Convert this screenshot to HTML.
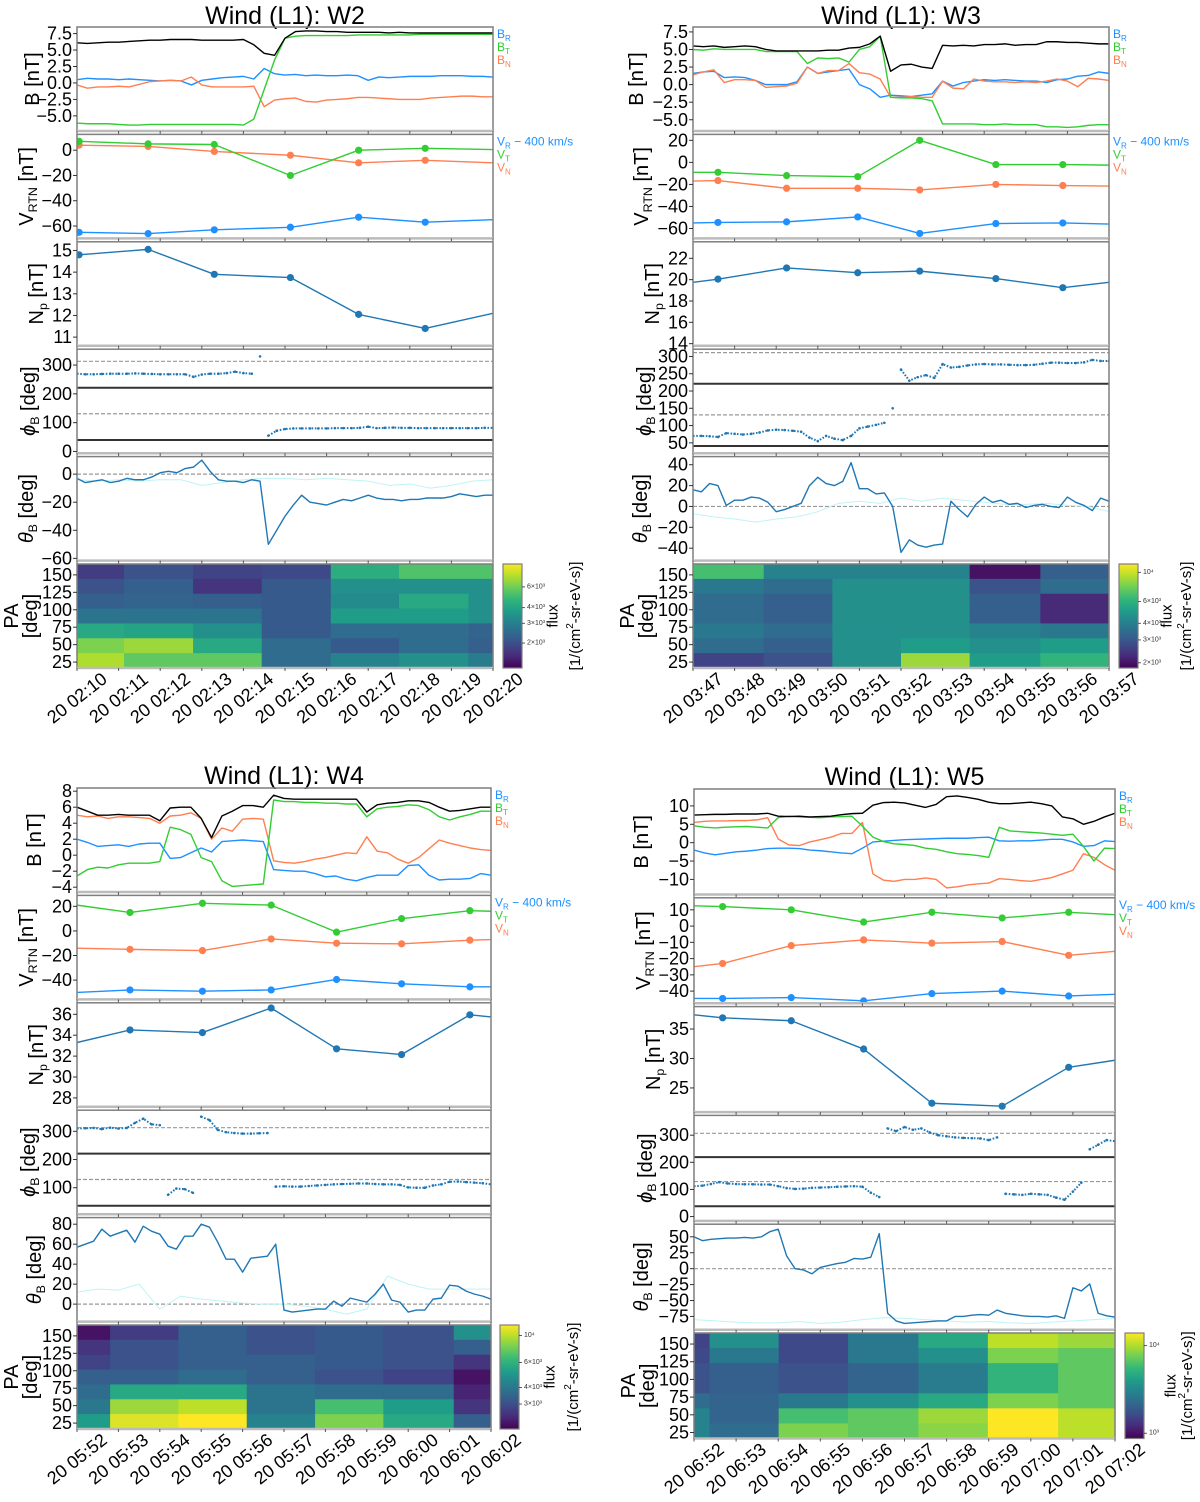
<!DOCTYPE html>
<html><head><meta charset="utf-8"><style>
html,body{margin:0;padding:0;background:#fff;}
svg{display:block;font-family:"Liberation Sans",sans-serif;}
</style></head><body>
<svg id="fig" width="1200" height="1502" viewBox="0 0 1200 1502" xmlns="http://www.w3.org/2000/svg"></svg>
<script>
// ===== DATA =====
const w2_Bmag=[6.1,6.0,6.1,6.2,6.2,6.3,6.4,6.5,6.5,6.6,6.6,6.6,6.5,6.5,6.5,6.5,6.6,5.8,4.5,4.2,6.8,7.8,7.9,7.9,7.8,7.8,7.7,7.7,7.7,7.7,7.6,7.7,7.6,7.6,7.6,7.6,7.6,7.6,7.6,7.6,7.6];
const w2_BT=[-6.1,-6.2,-6.2,-6.2,-6.3,-6.4,-6.4,-6.3,-6.3,-6.3,-6.3,-6.3,-6.3,-6.3,-6.3,-6.3,-6.4,-5.5,-1.0,3.5,6.8,7.1,7.2,7.2,7.2,7.2,7.2,7.3,7.3,7.3,7.3,7.3,7.3,7.4,7.4,7.4,7.4,7.4,7.4,7.4,7.4];
const w2_BR=[0.5,0.7,0.6,0.6,0.5,0.6,0.5,0.4,0.3,0.4,0.3,-0.3,0.4,0.6,0.8,0.9,1.0,0.6,2.2,1.4,1.2,1.3,1.1,1.2,1.1,1.1,1.2,1.1,0.4,0.9,0.8,0.9,1.0,1.0,1.0,1.1,1.1,1.1,1.0,1.0,0.9];
const w2_BN=[-0.3,-0.8,-0.6,-0.6,-0.5,-0.6,-0.2,0.2,0.3,0.4,0.3,0.9,-0.3,-0.6,-0.6,-0.6,-0.6,-0.5,-3.6,-2.6,-2.4,-2.3,-2.8,-2.9,-2.6,-2.5,-2.4,-2.2,-2.2,-2.3,-2.4,-2.5,-2.5,-2.5,-2.3,-2.2,-2.1,-2.0,-2.0,-2.1,-2.1];
const w3_Bmag=[5.5,5.4,5.5,5.3,5.4,5.5,5.4,5.0,4.8,4.8,4.8,4.8,4.8,4.9,4.9,5.2,5.3,5.8,6.9,1.9,2.8,2.9,2.5,2.3,5.6,5.5,5.6,5.5,5.7,5.7,5.8,5.6,5.7,5.7,6.1,6.1,6.0,6.0,5.9,5.8,5.8];
const w3_BT=[5.0,4.9,5.1,5.0,5.0,5.0,5.0,4.7,4.7,4.7,4.7,3.0,3.8,3.7,3.8,3.2,5.0,5.4,6.9,-1.8,-1.9,-1.9,-2.0,-2.3,-5.6,-5.6,-5.6,-5.6,-5.7,-5.7,-5.6,-5.7,-5.7,-5.7,-6.0,-6.0,-6.1,-6.0,-5.8,-5.7,-5.7];
const w3_BR=[1.6,1.8,1.9,1.0,1.1,1.0,0.6,0.0,0.0,0.0,0.4,2.5,1.6,1.8,2.0,2.2,0.0,-0.6,-1.8,-1.5,-1.6,-1.7,-1.5,-1.3,0.5,-0.2,0.3,0.5,0.7,0.6,0.7,0.6,0.5,0.5,0.3,0.7,0.8,1.2,1.3,1.8,1.6];
const w3_BN=[1.4,1.8,2.1,0.3,0.7,0.7,0.6,-0.4,-0.3,-0.2,0.2,2.5,1.6,2.0,2.0,3.0,1.7,1.5,0.8,-1.8,-1.8,-1.7,-1.8,-1.8,0.5,-0.5,-0.6,0.8,0.5,0.4,0.4,0.3,0.4,0.3,0.5,0.8,0.5,-0.3,0.9,0.8,0.6];
const w4_Bmag=[6.0,5.5,5.0,5.0,5.1,5.0,5.0,5.0,4.3,5.9,6.0,6.0,4.6,2.2,4.9,5.5,6.2,6.2,6.0,7.5,7.1,7.0,7.0,7.0,7.0,7.0,7.0,7.0,5.4,6.3,6.5,6.6,6.8,6.8,6.6,6.0,5.5,5.6,5.8,6.0,6.0];
const w4_BT=[-2.6,-1.8,-1.5,-1.6,-1.2,-1.0,-1.0,-1.0,-0.8,3.5,3.2,2.6,-0.3,-0.8,-3.2,-3.9,-3.8,-3.7,-3.6,6.9,6.7,6.7,6.6,6.6,6.5,6.5,6.4,6.4,4.8,5.8,6.0,6.1,6.3,6.2,5.7,4.8,4.4,4.8,5.1,5.5,5.5];
const w4_BR=[2.0,1.6,1.1,1.2,1.3,1.1,1.4,1.5,1.5,-0.4,-0.3,0.3,0.9,0.4,1.7,1.8,1.9,1.8,1.7,-1.8,-1.9,-2.0,-2.0,-2.3,-2.7,-2.6,-3.0,-3.2,-2.8,-2.5,-2.5,-2.5,-1.3,-1.2,-2.5,-3.1,-3.0,-3.0,-2.9,-2.3,-2.5];
const w4_BN=[5.0,4.8,4.9,4.6,4.8,4.8,4.7,4.6,4.0,4.9,5.0,5.3,4.6,2.0,3.4,3.0,4.5,4.6,4.5,-0.7,-0.9,-1.0,-0.8,-0.5,-0.3,0.0,0.3,0.2,2.3,0.5,0.3,-0.5,-1.0,-0.3,0.8,1.9,1.5,1.2,0.9,0.7,0.6];
const w5_Bmag=[7.5,7.6,7.7,7.7,7.8,7.8,7.8,8.0,7.2,7.1,7.2,7.0,7.1,7.2,7.6,7.9,8.0,10.2,10.9,11.0,10.8,10.2,9.6,10.4,12.5,12.7,12.3,11.8,11.0,10.6,10.6,10.8,11.0,10.6,10.0,7.0,6.5,5.0,5.8,7.0,8.0];
const w5_BT=[4.6,4.2,4.0,4.2,4.3,4.4,4.2,4.0,6.8,7.2,7.0,6.9,6.8,7.0,7.1,7.2,4.5,1.5,0.3,-0.3,-0.5,-0.8,-1.5,-1.8,-2.5,-3.0,-3.2,-3.5,-4.0,4.2,3.2,3.0,2.8,2.6,2.3,2.0,2.3,-1.0,-5.0,-1.5,-1.6];
const w5_BR=[-2.0,-2.8,-3.3,-2.9,-2.5,-2.3,-2.0,-1.6,-1.5,-1.5,-1.6,-2.0,-2.2,-2.5,-2.8,-3.0,-1.5,0.2,0.4,0.6,0.8,0.9,1.0,1.1,1.2,1.2,1.2,1.4,1.5,0.5,0.4,0.5,0.5,0.7,0.9,0.9,0.2,-1.0,-0.8,0.5,0.3];
const w5_BN=[5.5,5.8,5.9,5.9,6.0,6.0,6.2,6.8,1.0,-0.6,-0.8,0.2,0.8,1.5,2.5,2.5,5.5,-8.5,-10.2,-10.5,-10.0,-10.0,-9.6,-10.0,-12.3,-12.0,-11.5,-11.2,-11.0,-9.8,-10.0,-10.3,-10.5,-10.0,-9.5,-8.5,-7.5,-3.0,-4.0,-6.0,-7.5];
const w2_vt=[0.05,1.71,3.3,5.13,6.77,8.37,10];
const w2_VR=[-65,-66,-63,-61,-53,-57,-55];
const w2_VT=[7,5,4.5,-20,0,1.5,0.5];
const w2_VN=[4,3,-1,-4,-10,-8,-10];
const w2_Np=[14.8,15.05,13.9,13.75,12.05,11.4,12.1];
const w3_vt=[0,0.6,2.25,3.96,5.45,7.28,8.89,10];
const w3_VR=[-55,-54.5,-54,-49.5,-64.5,-55.5,-55,-56];
const w3_VT=[-9,-9,-12,-13,20,-2,-2,-2.5];
const w3_VN=[-17,-16.5,-23.5,-23.5,-25,-20,-21,-21.5];
const w3_Np=[19.75,20.05,21.1,20.65,20.8,20.1,19.25,19.75];
const w4_vt=[0,1.28,3.03,4.69,6.27,7.84,9.49,10];
const w4_VR=[-50,-48,-49,-48,-39.5,-43,-45.5,-45.5];
const w4_VT=[21,15,22.5,21,-1,10,16.5,16];
const w4_VN=[-14,-15,-16,-6.5,-10,-10.5,-7.5,-7];
const w4_Np=[33.3,34.5,34.25,36.6,32.7,32.15,35.95,35.75];
const w5_vt=[0,0.68,2.31,4.03,5.65,7.32,8.9,10];
const w5_VR=[-44.5,-44.5,-44,-46,-41.5,-40,-43,-42];
const w5_VT=[12.5,12,10,2.5,8.5,5,8.5,7];
const w5_VN=[-25,-23,-12,-8.5,-10.5,-9.5,-18,-15.5];
const w5_Np=[37.4,36.9,36.4,31.6,22.4,21.9,28.5,29.7];
const w2_phi=[270,268,268,269,270,270,270,271,270,269,268,268,268,268,259,267,270,270,272,277,272,270,330,55,72,78,80,80,80,80,80,81,81,81,82,86,81,82,83,82,82,81,81,81,81,81,81,81,81,82,82];
const w3_phi=[70,70,69,67,78,76,74,76,80,86,88,87,85,82,65,55,70,62,58,70,92,97,102,108,150,262,230,240,246,238,278,268,270,274,277,278,277,277,276,275,275,276,279,282,282,281,281,283,290,287,287];
const w4_phi=[310,311,312,308,313,310,312,330,345,325,322,75,97,95,82,352,340,305,297,294,292,292,293,294,104,105,104,104,106,108,110,112,113,114,115,115,113,112,112,110,101,100,100,108,112,121,122,120,118,116,112];
const w5_phi=[112,114,120,127,122,120,119,119,118,118,112,105,102,103,106,107,108,110,111,112,110,88,72,325,315,330,320,325,310,300,296,292,290,289,288,282,292,84,82,80,84,82,80,70,62,92,125,248,265,282,278];
const w2_theta=[-3,-6,-5,-4,-6,-5,-3,-4,-4,-2,1,2,1,4,5,10,2,-4,-5,-5,-6,-4,-5,-50,-40,-30,-22,-15,-20,-21,-22,-20,-18,-19,-17,-15,-17,-18,-18,-19,-18,-18,-17,-17,-17,-16,-14,-15,-16,-15,-15];
const w2_thetaRef=[-4,-5,-4,-5,-4,-4,-8,-6,-4,-3,-3,-4,-3,-4,-5,-8,-7,-10,-8,-5,-4];
const w3_theta=[16,14,22,20,1,6,6,9,8,4,-5,-3,0,3,20,28,22,20,24,42,17,17,12,13,0,-44,-32,-37,-39,-37,-36,5,-3,-10,2,9,4,6,2,3,-1,1,2,0,-1,9,4,1,-4,8,5];
const w3_thetaRef=[-7,-10,-12,-15,-12,-10,-5,3,5,3,8,5,8,6,4,2,2,3,1,0,-5];
const w4_theta=[57,60,63,75,68,71,74,62,78,73,70,58,55,68,68,80,77,62,45,45,32,46,47,48,60,-6,-8,-7,-6,-5,-5,3,-2,6,4,2,10,20,4,2,-8,-6,-6,5,6,19,18,13,10,8,5];
const w4_thetaRef=[12,15,14,20,-5,8,5,3,1,0,0,-2,-5,-10,-5,28,20,15,15,15,15];
const w5_theta=[50,44,46,47,48,48,49,48,50,58,62,20,0,-2,-8,2,5,8,10,16,15,18,55,-70,-82,-86,-85,-84,-83,-82,-82,-75,-75,-73,-72,-73,-65,-70,-72,-74,-75,-75,-76,-74,-78,-30,-35,-24,-70,-74,-76];
const w5_thetaRef=[-80,-82,-84,-85,-85,-83,-86,-84,-80,-77,-78,-80,-82,-84,-83,-85,-86,-84,-82,-80,-78];
const w2_paEdges=[0,1.13,2.79,4.44,6.1,7.74,9.41,10];
const w2_pa=[[0.18,0.25,0.2,0.22,0.62,0.72,0.72],[0.25,0.3,0.15,0.28,0.5,0.5,0.5],[0.3,0.32,0.3,0.28,0.48,0.6,0.5],[0.38,0.38,0.38,0.28,0.55,0.55,0.5],[0.6,0.58,0.5,0.28,0.35,0.35,0.32],[0.8,0.85,0.6,0.35,0.28,0.35,0.3],[0.88,0.75,0.75,0.35,0.45,0.5,0.42]];
const w3_paEdges=[0,1.7,3.35,5.0,6.65,8.35,10];
const w3_pa=[[0.7,0.45,0.45,0.45,0.05,0.3],[0.4,0.35,0.5,0.5,0.25,0.35],[0.35,0.3,0.5,0.5,0.3,0.12],[0.35,0.3,0.5,0.5,0.3,0.12],[0.4,0.35,0.5,0.5,0.45,0.4],[0.35,0.3,0.5,0.55,0.5,0.55],[0.2,0.25,0.5,0.85,0.55,0.65]];
const w4_paEdges=[0,0.8,2.45,4.1,5.75,7.4,9.1,10];
const w4_pa=[[0.05,0.18,0.3,0.25,0.28,0.25,0.5],[0.15,0.25,0.3,0.25,0.28,0.25,0.3],[0.2,0.25,0.3,0.3,0.28,0.25,0.15],[0.3,0.3,0.35,0.3,0.25,0.2,0.05],[0.35,0.6,0.6,0.38,0.35,0.35,0.1],[0.4,0.85,0.9,0.38,0.7,0.55,0.15],[0.55,0.95,1,0.45,0.8,0.6,0.3]];
const w5_paEdges=[0,0.37,2.01,3.66,5.33,6.98,8.65,10];
const w5_pa=[[0.2,0.5,0.22,0.4,0.6,0.9,0.85],[0.22,0.4,0.22,0.4,0.5,0.8,0.75],[0.25,0.3,0.25,0.32,0.42,0.65,0.75],[0.25,0.3,0.25,0.32,0.42,0.65,0.75],[0.35,0.32,0.4,0.5,0.6,0.8,0.75],[0.45,0.32,0.7,0.75,0.85,1,0.9],[0.45,0.35,0.8,0.75,0.82,1,0.9]];
const w2_times=["02:10","02:11","02:12","02:13","02:14","02:15","02:16","02:17","02:18","02:19","02:20"];
const w3_times=["03:47","03:48","03:49","03:50","03:51","03:52","03:53","03:54","03:55","03:56","03:57"];
const w4_times=["05:52","05:53","05:54","05:55","05:56","05:57","05:58","05:59","06:00","06:01","06:02"];
const w5_times=["06:52","06:53","06:54","06:55","06:56","06:57","06:58","06:59","07:00","07:01","07:02"];

// ===== RENDER =====
const NS="http://www.w3.org/2000/svg";
const svg=document.getElementById('fig');
function mk(tag,attrs,parent){const e=document.createElementNS(NS,tag);for(const k in attrs)e.setAttribute(k,attrs[k]);(parent||svg).appendChild(e);return e;}
const C={R:'#1e90ff',T:'#32cd32',N:'#ff7f50',mag:'#000',line:'#1f77b4',ref:'#bff3f5'};
const VIR=[[68,1,84],[72,40,120],[62,74,137],[49,104,142],[38,130,142],[31,158,137],[53,183,121],[110,206,88],[181,222,43],[253,231,37]];
function vir(f){f=Math.max(0,Math.min(1,f))*9;const i=Math.min(8,Math.floor(f)),r=f-i;const a=VIR[i],b=VIR[i+1];return 'rgb('+a.map((v,k)=>Math.round(v+(b[k]-v)*r)).join(',')+')';}
function rng(n,step){return Array.from({length:n},(_,i)=>i*step);}
const T41=rng(41,0.25),T51=rng(51,0.2),T21=rng(21,0.5);
let clipId=0;

function subLabel(g,x,y,main,sub,rest,size,italic){
  const t=mk('text',{x:x,y:y,'font-size':size,'text-anchor':'middle','dominant-baseline':'central',transform:'rotate(-90 '+x+' '+y+')'},g);
  const a=mk('tspan',{},t);a.textContent=main;if(italic)a.setAttribute('font-style','italic');
  if(sub){const s=mk('tspan',{'font-size':size*0.62,dy:size*0.3},t);s.textContent=sub;const r=mk('tspan',{dy:-size*0.3},t);r.textContent=rest;}
  else{const r=mk('tspan',{},t);r.textContent=rest;}
  return t;
}

function drawPanel(P){
  const g=mk('g',{});
  
  
  const L=P.left,R=P.right,W=R-L;
  const xs=t=>L+t/10*W;
  const title=mk('text',{x:(L+R)/2,y:P.titleY,'font-size':25,'text-anchor':'middle'},g);
  title.textContent='Wind (L1): '+P.label;
  
  
  P.subs.forEach((S,i)=>{
    const y0=P.top+i*P.step,h=P.h;
    const ys=v=>y0+(S.hi-v)/(S.hi-S.lo)*h;
    const sg=mk('g',{},g);
    
    
    const cid='c'+(clipId++);
    const cp=mk('clipPath',{id:cid},sg);mk('rect',{x:L,y:y0,width:W,height:h},cp);
    const inner=mk('g',{'clip-path':'url(#'+cid+')'},sg);
    if(S.key==='pa'){
      const nr=S.grid.length,rh=h/nr;
      S.grid.forEach((row,ri)=>row.forEach((v,ci)=>{
        const x1=xs(S.edges[ci]),x2=xs(S.edges[ci+1]);
        const c=mk('rect',{x:x1,y:y0+ri*rh,width:x2-x1+0.5,height:rh+0.5,fill:vir(v)},inner);
        
        
      }));
    }
    (S.hlines||[]).forEach(hl=>{
      const l=mk('line',{x1:L,x2:R,y1:ys(hl.v),y2:ys(hl.v),stroke:hl.dash?'#999':'#333','stroke-width':hl.dash?1.2:2,'stroke-dasharray':hl.dash?'4 2':'none'},inner);
      
      
    });
    (S.series||[]).forEach(se=>{
      const pts=[];se.y.forEach((v,k)=>{if(v!==null)pts.push([xs(se.t[k]),ys(v),v]);});
      if(se.dots){
        const segs=[];let cur=[];
        pts.forEach((p,k)=>{if(k>0&&Math.abs(p[2]-pts[k-1][2])>40){segs.push(cur);cur=[];}cur.push(p);});
        segs.push(cur);
        segs.forEach(sgm=>{if(sgm.length>1){
          const pl=mk('polyline',{points:sgm.map(p=>p[0]+','+p[1]).join(' '),fill:'none',stroke:se.c,'stroke-width':2,'stroke-dasharray':'1.6 1.6'},inner);
          
          }});
        pts.forEach(p=>{const d=mk('circle',{cx:p[0],cy:p[1],r:1.3,fill:se.c},inner);
          
          });
      }else{
        const pl=mk('polyline',{points:pts.map(p=>p[0]+','+p[1]).join(' '),fill:'none',stroke:se.c,'stroke-width':se.w||1.4,'stroke-linejoin':'round'},inner);
        
        
        if(se.markers)pts.forEach((p,k)=>{const tv=se.t[k];if(tv>0.02&&tv<9.98){const m=mk('circle',{cx:p[0],cy:p[1],r:3.6,fill:se.c},inner);
          
          }});
      }
    });
    const fr=mk('rect',{x:L,y:y0,width:W,height:h,fill:'none',stroke:'#7f7f7f','stroke-width':1.5},sg);
    
    
    mk('line',{x1:L,x2:R,y1:y0+h,y2:y0+h,stroke:'#bbb','stroke-width':2.5},sg);
    for(let m=0;m<=10;m++)mk('line',{x1:xs(m),x2:xs(m),y1:y0+h,y2:y0+h+3,stroke:'#555','stroke-width':1},sg);
    S.ticks.forEach((tv,k)=>{
      const y=ys(tv);
      mk('line',{x1:L-4,x2:L,y1:y,y2:y,stroke:'#333','stroke-width':1},sg);
      const tl=mk('text',{x:L-5,y:y,'font-size':18,'text-anchor':'end','dominant-baseline':'central'},sg);
      tl.textContent=S.tickLabels[k];
      
      
    });
    let yl;
    const cy=y0+h/2;
    if(S.key==='B')yl=subLabel(sg,L-S.lo2,cy,'B','','\u00a0[nT]',20);
    if(S.key==='V')yl=subLabel(sg,L-S.lo2,cy,'V','RTN','\u00a0[nT]',20);
    if(S.key==='Np')yl=subLabel(sg,L-S.lo2,cy,'N','p','\u00a0[nT]',20);
    if(S.key==='phi')yl=subLabel(sg,L-S.lo2,cy,'\u03d5','B','\u00a0[deg]',20,true);
    if(S.key==='theta')yl=subLabel(sg,L-S.lo2,cy,'\u03b8','B','\u00a0[deg]',20,true);
    if(S.key==='pa'){
      yl=mk('text',{x:L-65,y:cy,'font-size':20,'text-anchor':'middle','dominant-baseline':'central',transform:'rotate(-90 '+(L-65)+' '+cy+')'},sg);yl.textContent='PA';
      const y2=mk('text',{x:L-46,y:cy,'font-size':20,'text-anchor':'middle','dominant-baseline':'central',transform:'rotate(-90 '+(L-46)+' '+cy+')'},sg);y2.textContent='[deg]';
    }
    
    
    if(S.key==='B'||S.key==='V'){
      const names=S.key==='B'?[['B','R',' ',C.R],['B','T','',C.T],['B','N','',C.N]]:[['V','R',' \u2212 400 km/s',C.R],['V','T','',C.T],['V','N','',C.N]];
      names.forEach((n,k)=>{
        const t=mk('text',{x:R+4,y:y0+11+k*13,'font-size':12,fill:n[3]},sg);
        const a=mk('tspan',{},t);a.textContent=n[0];
        const s=mk('tspan',{'font-size':8,dy:3},t);s.textContent=n[1];
        if(n[2].trim()){const r=mk('tspan',{dy:-3},t);r.textContent=n[2];}
        
        
      });
    }
    if(S.key==='pa'){
      const cx=R+P.cbOff,cw=19;
      const gid='g'+P.name;
      const lg=mk('linearGradient',{id:gid,x1:0,y1:1,x2:0,y2:0},sg);
      for(let k=0;k<=9;k++)mk('stop',{offset:k/9,'stop-color':vir(k/9)},lg);
      const cb=mk('rect',{x:cx,y:y0,width:cw,height:h,fill:'url(#'+gid+')',stroke:'#7f7f7f','stroke-width':1.2},sg);
      
      
      P.cbTicks.forEach(ct=>{
        const yy=y0+ct[0]*h;
        mk('line',{x1:cx+cw,x2:cx+cw+3,y1:yy,y2:yy,stroke:'#333','stroke-width':0.8},sg);
        const t=mk('text',{x:cx+cw+5,y:yy,'font-size':7,'dominant-baseline':'central',fill:'#333'},sg);
        t.textContent=ct[1];
        
        
      });
      const fx=R+P.fluxOff,bx=R+P.unitOff;
      const f=mk('text',{x:fx,y:cy,'font-size':15,'text-anchor':'middle','dominant-baseline':'central',transform:'rotate(-90 '+fx+' '+cy+')'},sg);f.textContent='flux';
      
      
      const b=mk('text',{x:bx,y:cy,'font-size':15,'text-anchor':'middle','dominant-baseline':'central',transform:'rotate(-90 '+bx+' '+cy+')'},sg);
      const b1=mk('tspan',{},b);b1.textContent='[1/(cm';const b2=mk('tspan',{'font-size':10,dy:-5},b);b2.textContent='2';const b3=mk('tspan',{dy:5},b);b3.textContent='-sr-eV-s)]';
      
      
      P.times.forEach((tm,k)=>{
        const x=xs(k),y=y0+h+30;
        const t=mk('text',{x:x,y:y,'font-size':18,'text-anchor':'middle','dominant-baseline':'central',transform:'rotate(-38 '+x+' '+y+')'},sg);
        t.textContent='20 '+tm;
        
        
      });
    }
  });
}
function fmt(v,d){return (v<0?'\u2212':'')+Math.abs(v).toFixed(d);}
function ticks(a,d){return {ticks:a,tickLabels:a.map(v=>fmt(v,d))};}
function paSub(edges,grid){return Object.assign({key:'pa',lo:16.5,hi:165.6,lo2:0,edges:edges,grid:grid},ticks([25,50,75,100,125,150],0));}
function bSeries(mag,br,bt,bn){return [{t:T41,y:br,c:C.R,nm:'BR-line'},{t:T41,y:bn,c:C.N,nm:'BN-line'},{t:T41,y:bt,c:C.T,nm:'BT-line'},{t:T41,y:mag,c:C.mag,nm:'Bmag-line'}];}
function vSeries(t,r,tt,n){return [{t:t,y:r,c:C.R,nm:'VR-line',markers:true},{t:t,y:n,c:C.N,nm:'VN-line',markers:true},{t:t,y:tt,c:C.T,nm:'VT-line',markers:true}];}
function phiLines(b1,b2,d1,d2){return [{v:b1},{v:b2},{v:d1,dash:true},{v:d2,dash:true}];}

const panels=[
 {name:'w2',label:'W2',left:77,right:493,top:27,step:107.4,h:104,titleY:24,cbOff:10,fluxOff:60,unitOff:82,times:w2_times,
  cbTicks:[[0.22,'6\u00d710\u00b3'],[0.42,'4\u00d710\u00b3'],[0.57,'3\u00d710\u00b3'],[0.76,'2\u00d710\u00b3']],
  subs:[Object.assign({key:'B',lo:-7.3,hi:8.5,lo2:44,series:bSeries(w2_Bmag,w2_BR,w2_BT,w2_BN)},ticks([-5,-2.5,0,2.5,5,7.5],1)),
   Object.assign({key:'V',lo:-69.8,hi:12.5,lo2:50,series:vSeries(w2_vt,w2_VR,w2_VT,w2_VN)},ticks([-60,-40,-20,0],0)),
   Object.assign({key:'Np',lo:10.6,hi:15.4,lo2:40,series:[{t:w2_vt,y:w2_Np,c:C.line,nm:'Np-line',markers:true}]},ticks([11,12,13,14,15],0)),
   Object.assign({key:'phi',lo:-6,hi:355,lo2:48,hlines:phiLines(221,40,313,131),series:[{t:T51,y:w2_phi,c:C.line,nm:'phiB-dots',dots:true}]},ticks([0,100,200,300],0)),
   Object.assign({key:'theta',lo:-61.6,hi:12.5,lo2:50,hlines:[{v:0,dash:true}],series:[{t:T21,y:w2_thetaRef,c:C.ref,nm:'thetaB-ref-line',w:1},{t:T51,y:w2_theta,c:C.line,nm:'thetaB-line'}]},ticks([-60,-40,-20,0],0)),
   paSub(w2_paEdges,w2_pa)]},
 {name:'w3',label:'W3',left:693,right:1109,top:27,step:107.4,h:104,titleY:24,cbOff:10,fluxOff:58,unitOff:77,times:w3_times,
  cbTicks:[[0.08,'10\u2074'],[0.36,'6\u00d710\u00b3'],[0.57,'4\u00d710\u00b3'],[0.73,'3\u00d710\u00b3'],[0.95,'2\u00d710\u00b3']],
  subs:[Object.assign({key:'B',lo:-6.6,hi:8.2,lo2:56,series:bSeries(w3_Bmag,w3_BR,w3_BT,w3_BN)},ticks([-5,-2.5,0,2.5,5,7.5],1)),
   Object.assign({key:'V',lo:-69,hi:25.4,lo2:51,series:vSeries(w3_vt,w3_VR,w3_VT,w3_VN)},ticks([-60,-40,-20,0,20],0)),
   Object.assign({key:'Np',lo:13.8,hi:23.55,lo2:40,series:[{t:w3_vt,y:w3_Np,c:C.line,nm:'Np-line',markers:true}]},ticks([14,16,18,20,22],0)),
   Object.assign({key:'phi',lo:20,hi:321,lo2:48,hlines:phiLines(221,41,311,131),series:[{t:T51,y:w3_phi,c:C.line,nm:'phiB-dots',dots:true}]},ticks([50,100,150,200,250,300],0)),
   Object.assign({key:'theta',lo:-51.9,hi:47.8,lo2:52,hlines:[{v:0,dash:true}],series:[{t:T21,y:w3_thetaRef,c:C.ref,nm:'thetaB-ref-line',w:1},{t:T51,y:w3_theta,c:C.line,nm:'thetaB-line'}]},ticks([-40,-20,0,20,40],0)),
   paSub(w3_paEdges,w3_pa)]},
 {name:'w4',label:'W4',left:77,right:491,top:788,step:107.4,h:104,titleY:784,cbOff:9,fluxOff:59,unitOff:82,times:w4_times,
  cbTicks:[[0.1,'10\u2074'],[0.36,'6\u00d710\u00b3'],[0.6,'4\u00d710\u00b3'],[0.76,'3\u00d710\u00b3']],
  subs:[Object.assign({key:'B',lo:-4.6,hi:8.4,lo2:42,series:bSeries(w4_Bmag,w4_BR,w4_BT,w4_BN)},ticks([-4,-2,0,2,4,6,8],0)),
   Object.assign({key:'V',lo:-55.7,hi:28.9,lo2:50,series:vSeries(w4_vt,w4_VR,w4_VT,w4_VN)},ticks([-40,-20,0,20],0)),
   Object.assign({key:'Np',lo:27.15,hi:37.1,lo2:40,series:[{t:w4_vt,y:w4_Np,c:C.line,nm:'Np-line',markers:true}]},ticks([28,30,32,34,36],0)),
   Object.assign({key:'phi',lo:6,hi:375,lo2:48,hlines:phiLines(221,36,313,129),series:[{t:T51,y:w4_phi,c:C.line,nm:'phiB-dots',dots:true}]},ticks([100,200,300],0)),
   Object.assign({key:'theta',lo:-17.5,hi:86.6,lo2:42,hlines:[{v:0,dash:true}],series:[{t:T21,y:w4_thetaRef,c:C.ref,nm:'thetaB-ref-line',w:1},{t:T51,y:w4_theta,c:C.line,nm:'thetaB-line'}]},ticks([0,20,40,60,80],0)),
   paSub(w4_paEdges,w4_pa)]},
 {name:'w5',label:'W5',left:694,right:1115,top:789,step:108.8,h:105.5,titleY:785,cbOff:10,fluxOff:56,unitOff:72,times:w5_times,
  cbTicks:[[0.12,'10\u2074'],[0.95,'10\u00b3']],
  subs:[Object.assign({key:'B',lo:-14.1,hi:14.6,lo2:52,series:bSeries(w5_Bmag,w5_BR,w5_BT,w5_BN)},ticks([-10,-5,0,5,10],0)),
   Object.assign({key:'V',lo:-47.5,hi:17.4,lo2:50,series:vSeries(w5_vt,w5_VR,w5_VT,w5_VN)},ticks([-40,-30,-20,-10,0,10],0)),
   Object.assign({key:'Np',lo:20.9,hi:38.8,lo2:40,series:[{t:w5_vt,y:w5_Np,c:C.line,nm:'Np-line',markers:true}]},ticks([25,30,35],0)),
   Object.assign({key:'phi',lo:-16,hi:373,lo2:48,hlines:phiLines(219,38,307,129),series:[{t:T51,y:w5_phi,c:C.line,nm:'phiB-dots',dots:true}]},ticks([0,100,200,300],0)),
   Object.assign({key:'theta',lo:-95.8,hi:69.8,lo2:52,hlines:[{v:0,dash:true}],series:[{t:T21,y:w5_thetaRef,c:C.ref,nm:'thetaB-ref-line',w:1},{t:T51,y:w5_theta,c:C.line,nm:'thetaB-line'}]},ticks([-75,-50,-25,0,25,50],0)),
   paSub(w5_paEdges,w5_pa)]}
];
panels.forEach(drawPanel);
</script>
</body></html>
